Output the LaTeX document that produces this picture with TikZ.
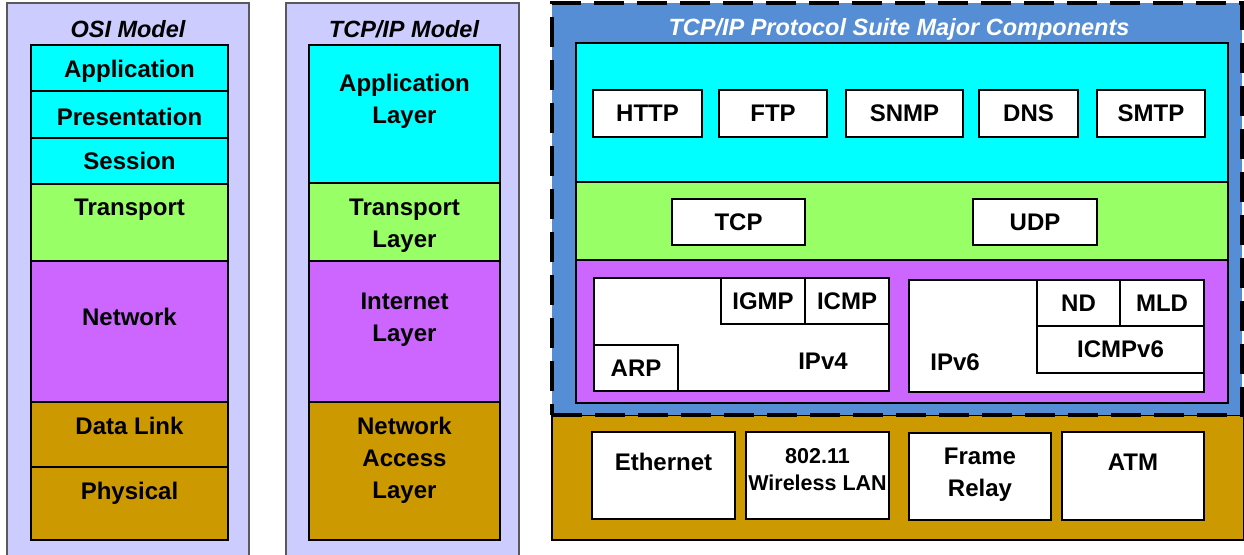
\documentclass[tikz,border=0pt]{standalone}
\usepackage{fontspec}
\setmainfont{Liberation Sans}
\usepackage{tikz}
\usetikzlibrary{positioning}

\definecolor{lav}{HTML}{CCCCFF}
\definecolor{appc}{HTML}{00FFFF}
\definecolor{trnc}{HTML}{99FF66}
\definecolor{netc}{HTML}{CC66FF}
\definecolor{linkc}{HTML}{CC9900}
\definecolor{suitec}{HTML}{558ED5}

\tikzset{
  frame/.style={rectangle, draw=black!65, fill=lav, line width=1.2pt, inner sep=0pt},
  layer/.style={rectangle, draw=black, line width=1.2pt, inner sep=0pt},
  proto/.style={rectangle, draw=black, fill=white, line width=1.2pt, inner sep=0pt,
    font=\bfseries\fontsize{24}{32}\selectfont},
  lbl/.style={font=\bfseries\fontsize{24}{32}\selectfont, align=center, inner sep=0pt},
  small lbl/.style={font=\bfseries\fontsize{21.5}{27}\selectfont, align=center, inner sep=0pt},
  ttl/.style={font=\bfseries\itshape\fontsize{23.5}{28}\selectfont, inner sep=0pt}
}

\begin{document}
\begin{tikzpicture}[x=1pt, y=-1pt]
\useasboundingbox (0,0) rectangle (1244,554);

% OSI model
\node [frame, minimum width=242pt, minimum height=560pt] (osi) at (128,283) {};
\node [ttl] (osititle) at (128,29) {OSI Model};
\node [layer, fill=appc, minimum width=197pt, minimum height=46pt] (osiapp) at (129.5,68) {};
\node [layer, fill=appc, minimum width=197pt, minimum height=47pt] (osipre) at (129.5,114.5) {};
\node [layer, fill=appc, minimum width=197pt, minimum height=46pt] (osises) at (129.5,161) {};
\node [layer, fill=trnc, minimum width=197pt, minimum height=77pt] (ositrn) at (129.5,222.5) {};
\node [layer, fill=netc, minimum width=197pt, minimum height=141pt] (osinet) at (129.5,331.5) {};
\node [layer, fill=linkc, minimum width=197pt, minimum height=65pt] (osidl) at (129.5,434.5) {};
\node [layer, fill=linkc, minimum width=197pt, minimum height=73pt] (osiphy) at (129.5,503.5) {};
\node [lbl] (lapp) at (129.5,71) {Application};
\node [lbl] (lpre) at (129.5,117) {Presentation};
\node [lbl] (lses) at (129.5,161) {Session};
\node [lbl] (ltrn) at (129.5,210) {Transport};
\node [lbl] (lnet) at (129.5,317) {Network};
\node [lbl] (ldl) at (129.5,426) {Data Link};
\node [lbl] (lphy) at (129.5,493) {Physical};

% TCP/IP model
\node [frame, minimum width=233pt, minimum height=560pt] (tcpip) at (402.5,283) {};
\node [ttl] (tcptitle) at (404,29) {TCP/IP Model};
\node [layer, fill=appc, minimum width=191pt, minimum height=138pt] (tapp) at (404.5,114) {};
\node [layer, fill=trnc, minimum width=191pt, minimum height=78pt] (ttrn) at (404.5,222) {};
\node [layer, fill=netc, minimum width=191pt, minimum height=141pt] (tinet) at (404.5,331.5) {};
\node [layer, fill=linkc, minimum width=191pt, minimum height=138pt] (tnacc) at (404.5,471) {};
\node [lbl] (ltapp) at (404.5,101) {Application\\Layer};
\node [lbl] (lttrn) at (404.5,226) {Transport\\Layer};
\node [lbl] (ltinet) at (404.5,320) {Internet\\Layer};
\node [lbl] (ltnacc) at (404.5,460) {Network\\Access\\Layer};

% protocol suite
\node [rectangle, draw=black, fill=linkc, line width=1.2pt, minimum width=692pt, minimum height=125pt] (link) at (898,477.5) {};
\node [rectangle, draw=black, fill=suitec, line width=3.5pt, dash pattern=on 30pt off 13pt,
  minimum width=690pt, minimum height=412pt] (suite) at (897,209) {};
\node [ttl, text=white] (suitetitle) at (899,29) {TCP/IP Protocol Suite Major Components};
\node [layer, fill=appc, minimum width=652pt, minimum height=139pt] (sapp) at (902,112.5) {};
\node [layer, fill=trnc, minimum width=652pt, minimum height=78pt] (strn) at (902,221) {};
\node [layer, fill=netc, minimum width=652pt, minimum height=143pt] (snet) at (902,331.5) {};

% application protocols
\node [proto, minimum width=109pt, minimum height=47pt] (http) at (647.5,113.5) {HTTP};
\node [proto, minimum width=108pt, minimum height=47pt] (ftp) at (773,113.5) {FTP};
\node [proto, minimum width=117pt, minimum height=47pt] (snmp) at (904.5,113.5) {SNMP};
\node [proto, minimum width=99pt, minimum height=47pt] (dns) at (1028.5,113.5) {DNS};
\node [proto, minimum width=108pt, minimum height=47pt] (smtp) at (1151,113.5) {SMTP};

% transport protocols
\node [proto, minimum width=133pt, minimum height=46pt] (tcp) at (738.5,222) {TCP};
\node [proto, minimum width=124pt, minimum height=46pt] (udp) at (1035,222) {UDP};

% internet protocols
\node [proto, minimum width=295pt, minimum height=113pt] (ipv4) at (741.5,334.5) {};
\node [proto, minimum width=84pt, minimum height=46pt] (igmp) at (763,301) {IGMP};
\node [proto, minimum width=84pt, minimum height=46pt] (icmp) at (847,301) {ICMP};
\node [proto, minimum width=84pt, minimum height=46pt] (arp) at (636,368) {ARP};
\node [lbl] (lipv4) at (823,361) {IPv4};
\node [proto, minimum width=295pt, minimum height=112pt] (ipv6) at (1056.5,336) {};
\node [proto, minimum width=83pt, minimum height=46pt] (nd) at (1078.5,303) {ND};
\node [proto, minimum width=84pt, minimum height=46pt] (mld) at (1162,303) {MLD};
\node [proto, minimum width=167pt, minimum height=47pt] (icmpv6) at (1120.5,349.5) {ICMPv6};
\node [lbl] (lipv6) at (955,362) {IPv6};

% network access
\node [proto, minimum width=143pt, minimum height=87pt] (eth) at (663.5,475.5) {};
\node [proto, minimum width=143pt, minimum height=87pt] (wlan) at (817.5,475.5) {};
\node [proto, minimum width=142pt, minimum height=87pt] (fr) at (980,476.5) {};
\node [proto, minimum width=142pt, minimum height=88pt] (atm) at (1133,476) {};
\node [lbl] (leth) at (663.5,462) {Ethernet};
\node [small lbl] (lwlan) at (817.5,469.5) {802.11\\Wireless LAN};
\node [lbl] (lfr) at (980,475) {Frame\\Relay};
\node [lbl] (latm) at (1133,462) {ATM};
\end{tikzpicture}
\end{document}
